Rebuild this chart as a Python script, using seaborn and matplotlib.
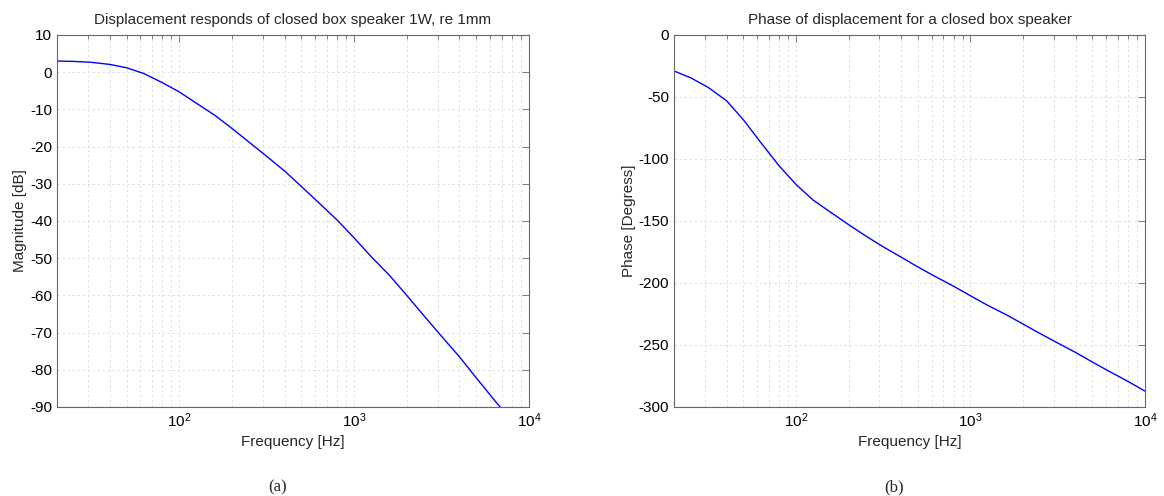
import numpy as np
import pandas as pd
import matplotlib
matplotlib.use("Agg")
import matplotlib.pyplot as plt
import seaborn as sns
from matplotlib.ticker import LogLocator, LogFormatterSciNotation, NullFormatter, MultipleLocator

# ---- data ----
mag_freq = [20, 25, 31.5, 40, 50, 63, 80, 100, 125, 160, 200, 250, 315, 400, 500,
            630, 800, 1000, 1250, 1600, 2000, 2500, 3150, 4000, 5000, 6300, 8000]
mag_db = [3.0, 2.9, 2.65, 2.1, 1.2, -0.4, -2.8, -5.3, -8.3, -11.6, -15.1, -18.75,
          -22.55, -26.55, -30.75, -35.15, -39.75, -44.55, -49.55, -54.7, -60.0,
          -65.4, -70.9, -76.5, -82.2, -88.0, -93.85]

ph_freq = [20, 25, 31.5, 40, 50, 63, 80, 100, 125, 160, 200, 250, 315, 400, 500,
           630, 800, 1000, 1250, 1600, 2000, 2500, 3150, 4000, 5000, 6300, 8000, 10000]
ph_deg = [-29, -34.6, -42.4, -53.0, -68.4, -86.9, -105.5, -120.5, -133.0, -143.5,
          -152.9, -161.9, -170.7, -179.1, -187.1, -194.9, -202.6, -210.3, -217.9,
          -225.5, -233.1, -240.7, -248.3, -256.0, -263.8, -271.6, -279.4, -287.2]

titles = ["Displacement responds of closed box speaker 1W, re 1mm",
          "Phase of displacement for a closed box speaker"]
ylabels = ["Magnitude [dB]", "Phase [Degress]"]
xlabel = "Frequency [Hz]"
captions = ["(a)", "(b)"]

sns.set_theme(style="white")
plt.rcParams['font.family'] = ['Liberation Sans', 'DejaVu Sans']
plt.rcParams['mathtext.default'] = 'regular'
plt.rcParams['axes.unicode_minus'] = False

fig = plt.figure(figsize=(11.64, 4.96), dpi=100)
W, H = 1164, 496
ax1 = fig.add_axes([57 / W, (H - 407) / H, 472 / W, 372 / H])
ax2 = fig.add_axes([674 / W, (H - 407) / H, 471 / W, 372 / H])

df1 = pd.DataFrame({"f": mag_freq, "v": mag_db})
df2 = pd.DataFrame({"f": ph_freq, "v": ph_deg})
sns.lineplot(data=df1, x="f", y="v", ax=ax1, color="#0000ff", lw=1.0)
sns.lineplot(data=df2, x="f", y="v", ax=ax2, color="#0000ff", lw=1.0)

spine_col = "#666666"
for ax, t, yl, ylim, step in [(ax1, titles[0], ylabels[0], (-90, 10), 10),
                              (ax2, titles[1], ylabels[1], (-300, 0), 50)]:
    ax.set_xscale("log")
    ax.set_xlim(20, 1e4)
    ax.set_ylim(*ylim)
    ax.yaxis.set_major_locator(MultipleLocator(step))
    ax.xaxis.set_major_locator(LogLocator(base=10))
    ax.xaxis.set_minor_locator(LogLocator(base=10, subs=np.arange(2, 10)))
    ax.xaxis.set_major_formatter(LogFormatterSciNotation())
    ax.xaxis.set_minor_formatter(NullFormatter())
    ax.set_title(t, fontsize=11, pad=8)
    ax.set_xlabel(xlabel, fontsize=11, labelpad=3)
    ax.set_ylabel(yl, fontsize=11, labelpad=2)
    ax.tick_params(axis="both", which="both", direction="in", top=True, right=True,
                   colors=spine_col, labelcolor="black", labelsize=11)
    ax.tick_params(axis="both", which="major", length=5, width=0.6)
    ax.tick_params(axis="both", which="minor", length=3, width=0.6)
    ax.tick_params(axis="y", which="minor", left=False, right=False)
    ax.grid(True, which="both", axis="x", color="#dcdcdc", linestyle=(0, (3, 3)), lw=0.6)
    ax.grid(True, which="major", axis="y", color="#dcdcdc", linestyle=(0, (3, 3)), lw=0.6)
    for s in ax.spines.values():
        s.set_visible(True)
        s.set_color(spine_col)
        s.set_linewidth(0.8)

fig.text(278 / W, 1 - 487 / H, captions[0], ha="center", va="center", fontsize=12,
         family="Liberation Serif")
fig.text(894 / W, 1 - 487 / H, captions[1], ha="center", va="center", fontsize=12,
         family="Liberation Serif")

fig.savefig("out.png", dpi=100, facecolor="white")
